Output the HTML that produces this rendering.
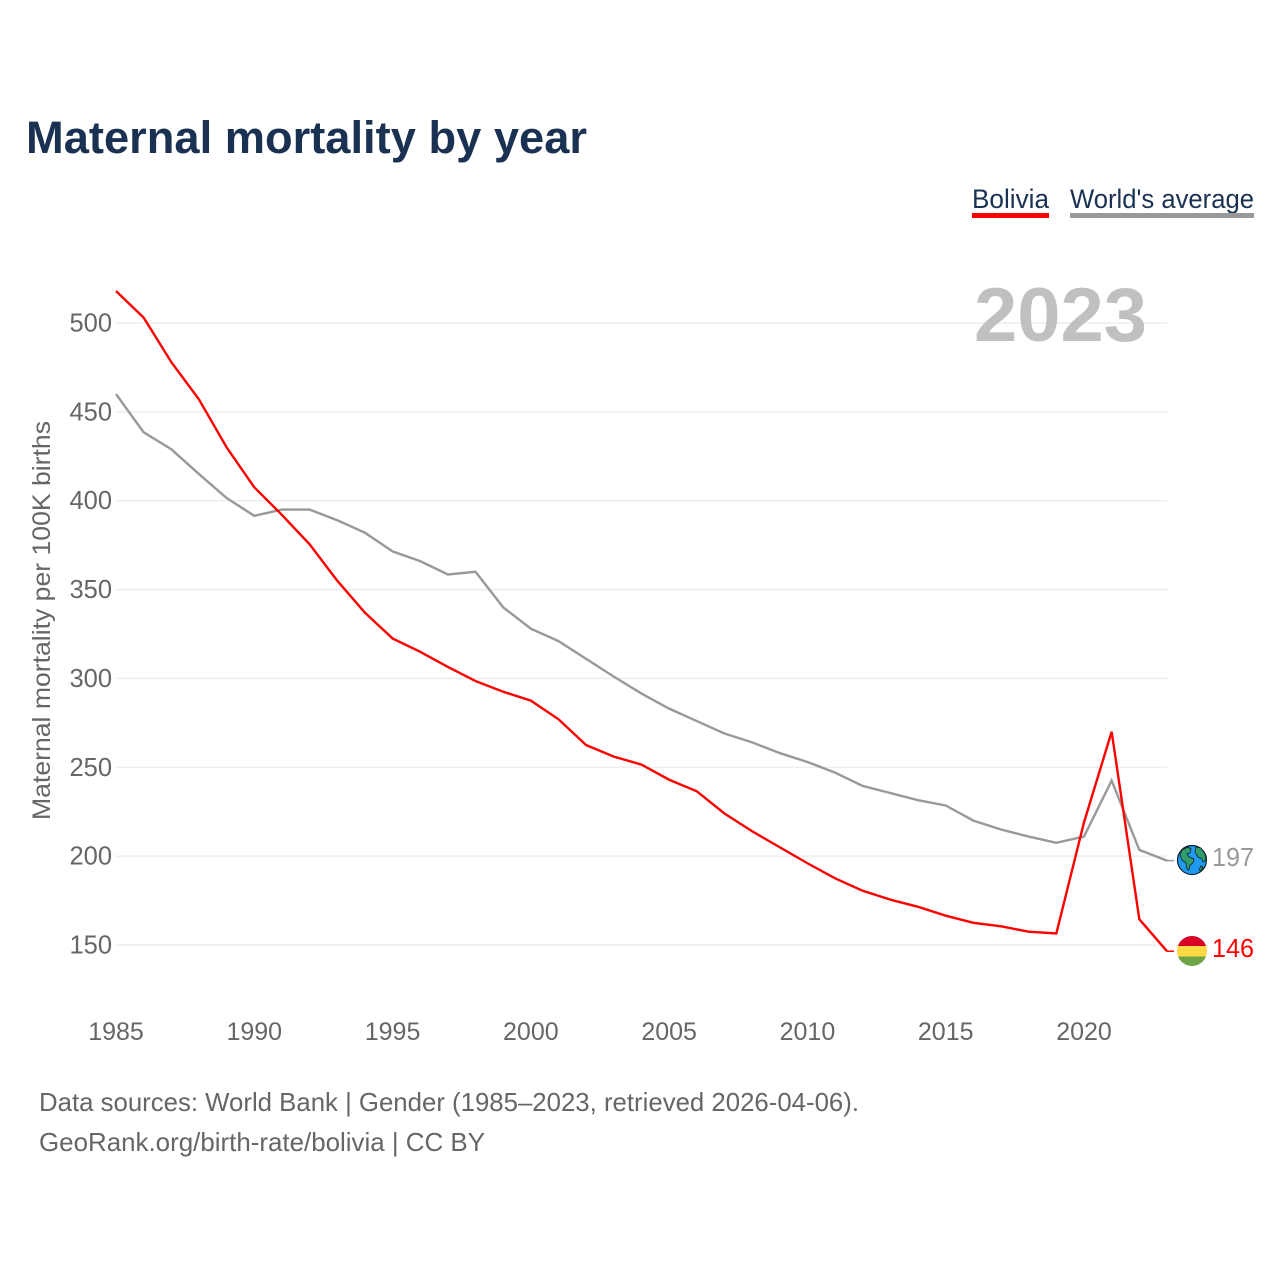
<!DOCTYPE html>
<html lang="en">
<head>
<meta charset="utf-8">
<title>Maternal mortality by year</title>
<style>
html,body{margin:0;padding:0;background:#fff}
svg{display:block}
text{font-family:"Liberation Sans",sans-serif}
</style>
</head>
<body>
<svg id="chart" xmlns="http://www.w3.org/2000/svg" width="1280" height="1280" viewBox="0 0 1280 1280">
  <rect width="1280" height="1280" fill="#fff"/>
  <text x="26" y="153" font-size="45" font-weight="700" fill="#1a3152" textLength="561" lengthAdjust="spacingAndGlyphs">Maternal mortality by year</text>

  <g>
    <text x="972" y="208" font-size="27" fill="#1a3152" textLength="77" lengthAdjust="spacingAndGlyphs">Bolivia</text>
    <rect x="972" y="213" width="77" height="5" fill="#ff0000"/>
  </g>
  <g>
    <text x="1070" y="208" font-size="27" fill="#1a3152" textLength="184" lengthAdjust="spacingAndGlyphs">World's average</text>
    <rect x="1070" y="213" width="184" height="5" fill="#999999"/>
  </g>

  <g id="grid"></g>
  <text x="974" y="341" font-size="76" font-weight="700" fill="#c0c0c0" textLength="173" lengthAdjust="spacingAndGlyphs">2023</text>
  <g id="y-ticks"></g>
  <g id="x-ticks"></g>
  <text transform="translate(50,820) rotate(-90)" font-size="25" fill="#666666" textLength="399" lengthAdjust="spacingAndGlyphs">Maternal mortality per 100K births</text>

  <g id="series"></g>

  <g>
    <circle cx="1192" cy="860" r="14.5" fill="#1e9bf0" stroke="#10202c" stroke-width="1.2"/>
    <path d="M1182 850l6-3 3 2-1 4-3 1 2 3 5 2-1 4-3 2-1 5-2-1-1-6-4-3-2-5z" fill="#2f9e6a" stroke="#10202c" stroke-width=".8"/>
    <path d="M1196 847l5 1 4 6 1 6-3 2-1-3-4-2-3-5zM1201 866l2 1-2 4-2-1z" fill="#2f9e6a" stroke="#10202c" stroke-width=".8"/>
  </g>
  <g>
    <clipPath id="flag-clip"><circle cx="1192" cy="951" r="15"/></clipPath>
    <g clip-path="url(#flag-clip)">
      <rect x="1177" y="936" width="30" height="10" fill="#d80027"/>
      <rect x="1177" y="946" width="30" height="10.5" fill="#ffda44"/>
      <rect x="1177" y="956.5" width="30" height="10" fill="#6da544"/>
    </g>
  </g>
  <text id="value-world" x="1212" y="866" font-size="25.5" fill="#999999" textLength="42" lengthAdjust="spacingAndGlyphs"></text>
  <text id="value-bolivia" x="1212" y="957" font-size="25.5" fill="#ff0000" textLength="42" lengthAdjust="spacingAndGlyphs"></text>

  <text x="39" y="1111" font-size="26" fill="#666666" textLength="820" lengthAdjust="spacingAndGlyphs">Data sources: World Bank | Gender (1985–2023, retrieved 2026-04-06).</text>
  <text x="39" y="1151" font-size="26" fill="#666666" textLength="446" lengthAdjust="spacingAndGlyphs">GeoRank.org/birth-rate/bolivia | CC BY</text>
</svg>
<script>
const years = [1985,1986,1987,1988,1989,1990,1991,1992,1993,1994,1995,1996,1997,1998,1999,2000,2001,2002,2003,2004,2005,2006,2007,2008,2009,2010,2011,2012,2013,2014,2015,2016,2017,2018,2019,2020,2021,2022,2023];
const boliviaValues = [518,503,478,457,430,407.5,392,375.5,355,337,322.5,315,306.5,298.5,292.5,287.5,277,262.5,256,251.5,243,236.5,224,214,205,196,187.5,180.5,175.5,171.5,166.5,162.5,160.5,157.5,156.5,219,270,164.5,146.5];
const worldValues = [460,438.5,429,415,401.5,391.5,395,395,389,382,371.5,366,358.5,360,340,328,321,311,301,291.5,283,276,269,264,258,253,247,239.5,235.5,231.5,228.5,220,215,211,207.5,211,242.5,203.5,197.5];
const yTickValues = [150,200,250,300,350,400,450,500];
const xTickValues = [1985,1990,1995,2000,2005,2010,2015,2020];
const endLabelWorld = 197;
const endLabelBolivia = 146;

const NS = 'http://www.w3.org/2000/svg';
const xScale = function (year) { return 116 + (year - 1985) * (1084 - 116) / 35; };
const yScale = function (value) { return 945 - (value - 150) * (945 - 323) / 350; };

const gridGroup = document.getElementById('grid');
const yGroup = document.getElementById('y-ticks');
yTickValues.forEach(function (v) {
  const line = document.createElementNS(NS, 'line');
  
  
  line.setAttribute('x1', 116);
  line.setAttribute('x2', 1167);
  line.setAttribute('y1', yScale(v));
  line.setAttribute('y2', yScale(v));
  line.setAttribute('stroke', '#ebebeb');
  line.setAttribute('stroke-width', '1.3');
  gridGroup.appendChild(line);
  const label = document.createElementNS(NS, 'text');
  
  
  label.setAttribute('x', 112);
  label.setAttribute('y', yScale(v) + 8.5);
  label.setAttribute('text-anchor', 'end');
  label.setAttribute('font-size', '25.5');
  label.setAttribute('fill', '#666666');
  label.textContent = v;
  yGroup.appendChild(label);
});

const xGroup = document.getElementById('x-ticks');
xTickValues.forEach(function (y) {
  const label = document.createElementNS(NS, 'text');
  
  
  label.setAttribute('x', xScale(y));
  label.setAttribute('y', 1040);
  label.setAttribute('text-anchor', 'middle');
  label.setAttribute('font-size', '25');
  label.setAttribute('fill', '#666666');
  label.textContent = y;
  xGroup.appendChild(label);
});

function linePoints(values) {
  return values.map(function (v, i) { return xScale(years[i]).toFixed(2) + ',' + yScale(v).toFixed(2); }).join(' ');
}
const seriesGroup = document.getElementById('series');

const worldLine = document.createElementNS(NS, 'polyline');


worldLine.setAttribute('points', linePoints(worldValues));
worldLine.setAttribute('fill', 'none');
worldLine.setAttribute('stroke', '#999999');
worldLine.setAttribute('stroke-width', '2.4');
seriesGroup.appendChild(worldLine);

const boliviaLine = document.createElementNS(NS, 'polyline');


boliviaLine.setAttribute('points', linePoints(boliviaValues));
boliviaLine.setAttribute('fill', 'none');
boliviaLine.setAttribute('stroke', '#ff0000');
boliviaLine.setAttribute('stroke-width', '2.4');
seriesGroup.appendChild(boliviaLine);

const lastX = xScale(years[years.length - 1]);
const lastWorld = worldValues[worldValues.length - 1];
const lastBolivia = boliviaValues[boliviaValues.length - 1];

const worldConnector = document.createElementNS(NS, 'line');


worldConnector.setAttribute('x1', lastX);
worldConnector.setAttribute('x2', lastX + 7);
worldConnector.setAttribute('y1', yScale(lastWorld));
worldConnector.setAttribute('y2', yScale(lastWorld));
worldConnector.setAttribute('stroke', '#999999');
worldConnector.setAttribute('stroke-width', '1.5');
seriesGroup.appendChild(worldConnector);

const boliviaConnector = document.createElementNS(NS, 'line');


boliviaConnector.setAttribute('x1', lastX);
boliviaConnector.setAttribute('x2', lastX + 7);
boliviaConnector.setAttribute('y1', yScale(lastBolivia));
boliviaConnector.setAttribute('y2', yScale(lastBolivia));
boliviaConnector.setAttribute('stroke', '#ff0000');
boliviaConnector.setAttribute('stroke-width', '1.5');
seriesGroup.appendChild(boliviaConnector);

document.getElementById('value-world').textContent = endLabelWorld;
document.getElementById('value-bolivia').textContent = endLabelBolivia;
</script>
</body>
</html>
